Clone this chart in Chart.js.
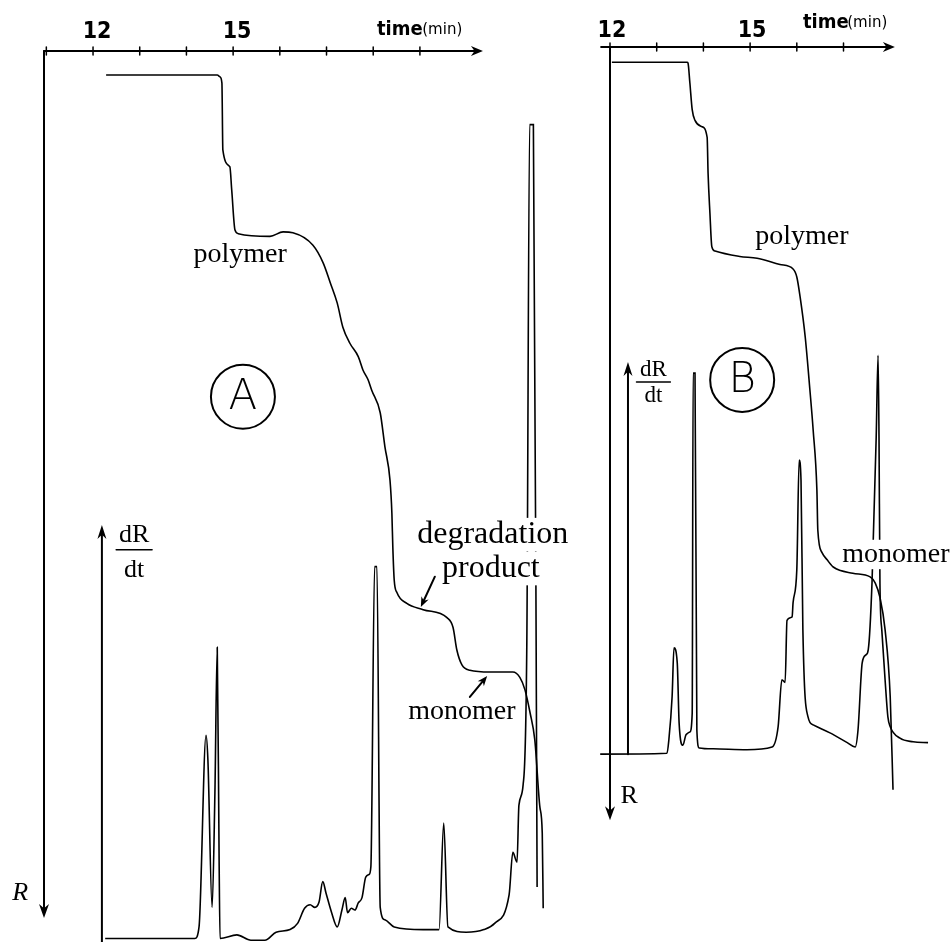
<!DOCTYPE html>
<html>
<head>
<meta charset="utf-8">
<title>Refractive index traces A and B</title>
<script src="https://cdn.jsdelivr.net/npm/chart.js@4.4.1/dist/chart.umd.min.js"></script>
<style>
  html, body { margin: 0; padding: 0; background: #fff; }
  #wrap { position: relative; width: 952px; height: 942px; overflow: hidden; }
  #chartA { position: absolute; left: 0; top: 0; }
  #chartB { position: absolute; left: 575px; top: 0; }
</style>
</head>
<body>
<div id="wrap">
  <canvas id="chartA" width="575" height="942"></canvas>
  <canvas id="chartB" width="377" height="942"></canvas>
</div>
<script>
// Time axis ticks (min)
const timeTicksA = [11, 12, 13, 14, 15, 16, 17, 18, 19];
const timeTicksB = [12, 13, 14, 15, 16, 17];
const labelledTicks = [12, 15];

// Panel A - integral trace R (grows downwards from the time axis)
const timeRA = [12.28, 14.66, 14.72, 14.76, 14.78, 14.93, 14.97, 15.04, 15.11, 15.79,
  16.07, 16.28, 16.71, 16.93, 17.08, 17.23, 17.35, 17.50, 17.68, 17.78,
  17.89, 17.97, 18.15, 18.25, 18.36, 18.40, 18.42, 18.45, 18.51, 18.72,
  19.07, 19.58, 19.71, 19.79, 19.90, 20.07, 20.50, 20.99, 21.14, 21.25,
  21.36, 21.46, 21.57, 21.62, 21.64];
const valueRA = [2.7, 2.7, 2.9, 3.6, 11.1, 13.0, 15.6, 20.1, 20.5, 20.8,
  20.3, 20.4, 21.8, 23.8, 26.0, 28.3, 31.0, 32.8, 34.3, 35.8,
  36.9, 38.1, 40.6, 44.4, 48.2, 51.9, 55.7, 59.4, 60.8, 62.0,
  62.7, 63.6, 64.7, 67.2, 68.9, 69.5, 69.7, 69.7, 70.3, 71.7,
  74.3, 77.3, 84.9, 87.8, 96.2];

// Panel A - derivative trace dR/dt
const timeDA = [12.26, 14.18, 14.27, 14.42, 14.46, 14.55, 14.61, 14.66, 14.70, 14.72,
  15.08, 15.38, 15.68, 15.92, 16.22, 16.38, 16.53, 16.65, 16.75, 16.84,
  16.92, 16.99, 17.11, 17.23, 17.33, 17.40, 17.45, 17.53, 17.61, 17.68,
  17.76, 17.84, 17.91, 17.95, 18.03, 18.08, 18.15, 18.25, 18.45, 19.07,
  19.41, 19.51, 19.60, 19.99, 20.37, 20.60, 20.91, 20.99, 21.08, 21.12,
  21.21, 21.29, 21.35, 21.43, 21.51];
const valueDA = [0, 0, 1.3, 22.9, 20.1, 3.5, 16.4, 32.8, 8.8, 0,
  0.4, -0.2, -0.2, 0.7, 1.0, 1.7, 3.4, 3.8, 3.5, 4.1,
  6.4, 5.1, 2.9, 1.3, 3.2, 4.6, 2.9, 3.4, 3.2, 4.0,
  4.6, 6.9, 7.2, 8.1, 41.9, 41.9, 3.5, 2.1, 1.3, 1.0,
  1.0, 13.0, 1.3, 0.7, 1.0, 1.7, 4.9, 9.7, 8.6, 15.0,
  17.3, 33.6, 91.7, 91.7, 5.8];

// Panel B - integral trace R
const timeRB = [12.04, 13.65, 13.67, 13.71, 13.76, 13.82, 13.97, 14.08, 14.10, 14.14,
  14.18, 14.25, 14.78, 15.15, 15.64, 15.92, 16.00, 16.07, 16.18, 16.28,
  16.35, 16.43, 16.45, 16.54, 16.65, 16.78, 17.20, 17.57, 17.68, 17.78,
  17.89, 18.00, 18.06];
const valueRB = [1.7, 1.7, 1.8, 4.0, 7.0, 8.2, 8.9, 10.1, 14.1, 18.6,
  22.3, 22.8, 23.4, 23.6, 24.3, 24.8, 25.7, 27.9, 32.4, 38.3,
  42.8, 49.5, 54.0, 56.5, 57.3, 58.1, 58.8, 59.2, 59.9, 61.5,
  65.1, 72.6, 83.0];

// Panel B - derivative trace dR/dt
const timeDB = [11.79, 13.22, 13.26, 13.33, 13.37, 13.44, 13.48, 13.56, 13.63, 13.71,
  13.76, 13.78, 13.82, 13.86, 13.91, 14.21, 14.93, 15.47, 15.60, 15.68,
  15.75, 15.79, 15.90, 15.92, 16.00, 16.05, 16.09, 16.13, 16.24, 16.35,
  16.71, 17.08, 17.25, 17.31, 17.40, 17.48, 17.53, 17.61, 17.70, 17.74,
  17.76, 17.78, 17.82, 17.89, 17.95, 18.00, 18.21, 18.49, 18.81];
const valueDB = [0, 0.1, 1.6, 6.5, 12.0, 10.3, 3.5, 1.0, 2.2, 2.5,
  4.6, 43.0, 43.0, 2.7, 0.7, 0.6, 0.5, 0.8, 3.1, 8.4,
  8.1, 15.1, 15.5, 17.1, 20.8, 33.2, 30.9, 14.0, 4.2, 3.3,
  2.4, 1.3, 0.8, 2.7, 10.3, 11.2, 11.8, 19.3, 35.8, 45.0,
  35.8, 19.3, 14.0, 8.4, 4.2, 3.1, 1.8, 1.4, 1.3];

const SERIF = "'Liberation Serif', 'Times New Roman', serif";
const NARROW = "'Liberation Sans Narrow', 'DejaVu Sans Condensed', sans-serif";

function toPoints(times, values) {
  return times.map((t, i) => ({ x: t, y: values[i] }));
}

function strokeLine(ctx, x1, y1, x2, y2, width) {
  ctx.lineWidth = width;
  ctx.beginPath();
  ctx.moveTo(x1, y1);
  ctx.lineTo(x2, y2);
  ctx.stroke();
}

// Filled arrow head with its tip at (x, y), pointing along angle
function arrowHead(ctx, x, y, angle, len, half) {
  ctx.save();
  ctx.translate(x, y);
  ctx.rotate(angle);
  ctx.beginPath();
  ctx.moveTo(0, 0);
  ctx.lineTo(-len, -half);
  ctx.lineTo(-len * 0.7, 0);
  ctx.lineTo(-len, half);
  ctx.closePath();
  ctx.fill();
  ctx.restore();
}

// Draws the hand-made axes, ticks and labels of one panel
function makeFigurePlugin(fig) {
  return {
    id: 'figure',
    afterDatasetsDraw(chart) {
      const ctx = chart.ctx;
      const sx = chart.scales.x, sR = chart.scales.yR, sD = chart.scales.yD;
      const px = t => sx.getPixelForValue(t);
      const pR = v => sR.getPixelForValue(v);
      const pD = v => sD.getPixelForValue(v);

      ctx.save();
      ctx.strokeStyle = '#000';
      ctx.fillStyle = '#000';
      ctx.lineCap = 'round';

      // Time axis
      const ay = pR(0);
      const axEnd = px(fig.timeAxis[1]);
      strokeLine(ctx, px(fig.timeAxis[0]), ay, axEnd - 6, ay, 2);
      arrowHead(ctx, axEnd, ay, 0, 12, 5);
      fig.ticks.forEach(t => strokeLine(ctx, px(t), ay - 4, px(t), ay + 4, 1.5));

      ctx.textAlign = 'center';
      ctx.textBaseline = 'alphabetic';
      ctx.font = 'bold 23px ' + NARROW;
      labelledTicks.forEach(t => ctx.fillText(String(t), px(t) + fig.labelDx, ay + fig.labelDy));

      ctx.textAlign = 'left';
      ctx.font = 'bold 20px ' + NARROW;
      ctx.fillText('time', px(fig.titleAt), ay + fig.titleDy);
      ctx.font = '15px "DejaVu Sans", sans-serif';
      ctx.fillText('(min)', px(fig.unitAt), ay + fig.titleDy - 1);

      // R axis, pointing down
      const rx = px(fig.rAxis.t);
      const rEnd = pR(fig.rAxis.to);
      strokeLine(ctx, rx, ay, rx, rEnd - 8, 2);
      arrowHead(ctx, rx, rEnd, Math.PI / 2, 14, 5);
      ctx.textAlign = 'center';
      ctx.textBaseline = 'middle';
      ctx.font = (fig.rLabel.italic ? 'italic ' : '') + '26px ' + SERIF;
      ctx.fillText('R', px(fig.rLabel.t), pR(fig.rLabel.r));

      // dR/dt axis, pointing up
      const dx = px(fig.dAxis.t);
      const dTop = pD(fig.dAxis.to);
      strokeLine(ctx, dx, pD(fig.dAxis.from), dx, dTop + 8, 2);
      arrowHead(ctx, dx, dTop, -Math.PI / 2, 14, 4.5);

      // dR/dt fraction label
      const fx = px(fig.frac.t), fy = pD(fig.frac.d);
      ctx.textBaseline = 'alphabetic';
      ctx.font = fig.frac.size + 'px ' + SERIF;
      ctx.fillText('dR', fx, fy - fig.frac.up);
      strokeLine(ctx, fx - fig.frac.half, fy, fx + fig.frac.half, fy, 1.4);
      ctx.fillText('dt', fx, fy + fig.frac.down);

      // Circled panel letter
      const cx = px(fig.circle.t), cy = pR(fig.circle.r);
      ctx.lineWidth = 2;
      ctx.beginPath();
      ctx.arc(cx, cy, 32, 0, Math.PI * 2);
      ctx.stroke();
      ctx.textBaseline = 'middle';
      ctx.font = '200 42px "DejaVu Sans", sans-serif';
      ctx.fillText(fig.circle.letter, cx, cy + 1);

      // Peak annotations
      ctx.textBaseline = 'alphabetic';
      fig.texts.forEach(item => {
        ctx.font = item.size + 'px ' + SERIF;
        const x = px(item.t), y = pR(item.r);
        if (item.knockout) {
          const w = ctx.measureText(item.text).width;
          ctx.fillStyle = '#fff';
          ctx.fillRect(x - w / 2 - 2, y - item.size * 0.78, w + 4, item.size * 1.05);
          ctx.fillStyle = '#000';
        }
        ctx.fillText(item.text, x, y);
      });

      fig.arrows.forEach(a => {
        const x1 = px(a.from[0]), y1 = pR(a.from[1]);
        const x2 = px(a.to[0]), y2 = pR(a.to[1]);
        const ang = Math.atan2(y2 - y1, x2 - x1);
        strokeLine(ctx, x1, y1, x2 - 6 * Math.cos(ang), y2 - 6 * Math.sin(ang), 2);
        arrowHead(ctx, x2, y2, ang, 10, 4);
      });

      ctx.restore();
    }
  };
}

function makeChart(canvasId, rTimes, rValues, dTimes, dValues, fig) {
  const ctx = document.getElementById(canvasId).getContext('2d');
  const traceStyle = {
    showLine: true,
    borderColor: '#000',
    borderWidth: 1.6,
    pointRadius: 0,
    cubicInterpolationMode: 'monotone',
    clip: false
  };

  return new Chart(ctx, {
    type: 'scatter',
    data: {
      datasets: [
        Object.assign({ label: 'R', data: toPoints(rTimes, rValues), yAxisID: 'yR' }, traceStyle),
        Object.assign({ label: 'dR/dt', data: toPoints(dTimes, dValues), yAxisID: 'yD' }, traceStyle)
      ]
    },
    options: {
      responsive: false,
      animation: false,
      devicePixelRatio: 1,
      events: [],
      layout: { padding: fig.padding },
      plugins: {
        legend: { display: false },
        tooltip: { enabled: false }
      },
      scales: {
        x: { type: 'linear', display: false, min: fig.xRange[0], max: fig.xRange[1] },
        yR: { type: 'linear', display: false, reverse: true, min: 0, max: 100 },
        yD: { type: 'linear', display: false, min: fig.dRange[0], max: fig.dRange[1] }
      }
    },
    plugins: [makeFigurePlugin(fig)]
  });
}

// Panel A
makeChart('chartA', timeRA, valueRA, timeDA, valueDA, {
  padding: { left: 44, right: 15, top: 51, bottom: 0 },
  xRange: [10.95, 22.0],
  dRange: [-0.4, 100],
  timeAxis: [10.95, 20.35],
  ticks: timeTicksA,
  labelDx: 4, labelDy: -13,
  titleAt: 18.08, unitAt: 19.05, titleDy: -16,
  rAxis: { t: 10.95, to: 97.3 },
  rLabel: { t: 10.44, r: 94.5, italic: true },
  dAxis: { t: 12.19, from: -0.4, to: 46.6 },
  frac: { t: 12.88, d: 43.8, size: 26, up: 8, down: 27, half: 18 },
  circle: { t: 15.21, r: 38.8, letter: 'A' },
  texts: [
    { text: 'polymer', t: 15.15, r: 23.7, size: 28 },
    { text: 'degradation', t: 20.56, r: 55.2, size: 32, knockout: true },
    { text: 'product', t: 20.52, r: 59.0, size: 32, knockout: true },
    { text: 'monomer', t: 19.90, r: 75.0, size: 28 }
  ],
  arrows: [
    { from: [19.32, 59.0], to: [19.02, 62.4] },
    { from: [20.07, 72.5], to: [20.44, 70.15] }
  ]
});

// Panel B
makeChart('chartB', timeRB, valueRB, timeDB, valueDB, {
  padding: { left: 23, right: 0, top: 47, bottom: 0 },
  xRange: [11.743, 19.323],
  dRange: [-21.2, 79.8],
  timeAxis: [11.81, 18.10],
  ticks: timeTicksB,
  labelDx: 2, labelDy: -10,
  titleAt: 16.13, unitAt: 17.08, titleDy: -19,
  rAxis: { t: 12.0, to: 86.4 },
  rLabel: { t: 12.41, r: 83.7, italic: false },
  dAxis: { t: 12.385, from: 0, to: 44.25 },
  frac: { t: 12.93, d: 42.0, size: 23, up: 6, down: 20, half: 17 },
  circle: { t: 14.83, r: 37.2, letter: 'B' },
  texts: [
    { text: 'polymer', t: 16.11, r: 22.0, size: 28 },
    { text: 'monomer', t: 18.12, r: 57.5, size: 28, knockout: true }
  ],
  arrows: []
});
</script>
</body>
</html>
